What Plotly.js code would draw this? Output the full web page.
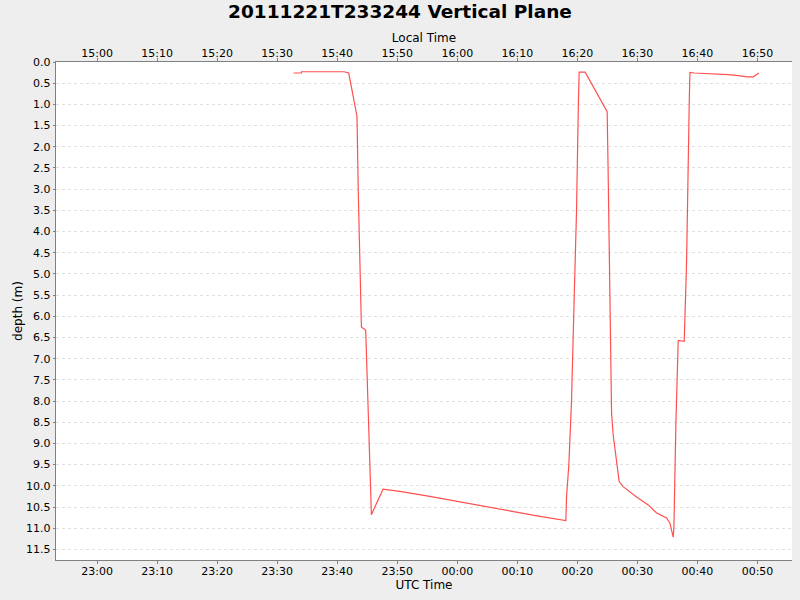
<!DOCTYPE html>
<html>
<head>
<meta charset="utf-8">
<script src="https://cdn.plot.ly/plotly-3.0.1.min.js"></script>
<style>
  body { margin: 0; background: #eeeeee; }
  #plot { width: 800px; height: 600px; }
</style>
</head>
<body>
<div id="plot"></div>
<script>
// UTC sample times and depths
const utcTimes = [
    '2011-12-21 23:32:44', '2011-12-21 23:34:02', '2011-12-21 23:34:04', '2011-12-21 23:41:08',
    '2011-12-21 23:41:55', '2011-12-21 23:42:15', '2011-12-21 23:42:38', '2011-12-21 23:43:05',
    '2011-12-21 23:43:18', '2011-12-21 23:43:30', '2011-12-21 23:43:52', '2011-12-21 23:44:02',
    '2011-12-21 23:44:45', '2011-12-21 23:45:42', '2011-12-21 23:47:38', '2011-12-21 23:50:25',
    '2011-12-21 23:55:25', '2011-12-22 00:00:22', '2011-12-22 00:05:25', '2011-12-22 00:10:25',
    '2011-12-22 00:13:45', '2011-12-22 00:18:05', '2011-12-22 00:18:12', '2011-12-22 00:18:35',
    '2011-12-22 00:19:02', '2011-12-22 00:19:28', '2011-12-22 00:19:52', '2011-12-22 00:20:10',
    '2011-12-22 00:20:18', '2011-12-22 00:21:18', '2011-12-22 00:21:32', '2011-12-22 00:24:58',
    '2011-12-22 00:25:07', '2011-12-22 00:25:25', '2011-12-22 00:25:42', '2011-12-22 00:25:58',
    '2011-12-22 00:26:58', '2011-12-22 00:27:38', '2011-12-22 00:29:45', '2011-12-22 00:31:48',
    '2011-12-22 00:33:12', '2011-12-22 00:34:52', '2011-12-22 00:35:25', '2011-12-22 00:35:58',
    '2011-12-22 00:36:05', '2011-12-22 00:36:25', '2011-12-22 00:36:38', '2011-12-22 00:36:48',
    '2011-12-22 00:37:48', '2011-12-22 00:38:12', '2011-12-22 00:38:38', '2011-12-22 00:38:45',
    '2011-12-22 00:39:28', '2011-12-22 00:43:28', '2011-12-22 00:45:08', '2011-12-22 00:46:48',
    '2011-12-22 00:48:18', '2011-12-22 00:49:18', '2011-12-22 00:50:15'
];
const depths = [
    0.26, 0.26, 0.23, 0.23,
    0.26, 0.50, 0.77, 1.05,
    1.28, 3.00, 5.60, 6.25,
    6.33, 10.68, 10.08, 10.13,
    10.25, 10.38, 10.50, 10.63,
    10.72, 10.82, 10.25, 9.50,
    7.97, 5.60, 3.49, 1.00,
    0.24, 0.24, 0.30, 1.17,
    2.50, 5.60, 8.29, 8.80,
    9.90, 10.02, 10.25, 10.45,
    10.64, 10.76, 10.88, 11.21,
    10.96, 8.50, 7.50, 6.57,
    6.59, 4.67, 0.97, 0.245,
    0.26, 0.28, 0.30, 0.32,
    0.35, 0.35, 0.26
];
const utcRange = ['2011-12-21 22:53:10', '2011-12-22 00:55:45'];
const localOffsetHours = -8;
const depthRange = [11.75, 0];

function shift(t, hours) {
    const d = new Date(t.replace(' ', 'T') + 'Z');
    d.setUTCHours(d.getUTCHours() + hours);
    return d.toISOString().slice(0, 19).replace('T', ' ');
}

const localTimes = utcTimes.map(t => shift(t, localOffsetHours));
const localRange = utcRange.map(t => shift(t, localOffsetHours));

const font = 'DejaVu Sans, sans-serif';

const data = [
    {
        x: utcTimes,
        y: depths,
        type: 'scatter',
        mode: 'lines',
        line: { color: '#ff5050', width: 1.2 },
        showlegend: false,
        hoverinfo: 'x+y'
    },
    {
        x: localTimes,
        y: depths,
        xaxis: 'x2',
        type: 'scatter',
        mode: 'lines',
        line: { color: 'rgba(0,0,0,0)', width: 0 },
        showlegend: false,
        hoverinfo: 'skip'
    }
];

const layout = {
    width: 800,
    height: 600,
    paper_bgcolor: '#eeeeee',
    plot_bgcolor: '#ffffff',
    margin: { l: 56, r: 8, t: 62, b: 40 },
    font: { family: font, size: 11, color: '#000' },
    title: {
        text: '<b>20111221T233244 Vertical Plane</b>',
        font: { family: font, size: 18.5, color: '#000' },
        x: 0.5, xanchor: 'center',
        y: 0.98, yanchor: 'middle'
    },
    xaxis: {
        type: 'date',
        range: utcRange,
        tickformat: '%H:%M',
        dtick: 600000,
        tick0: '2011-12-21 23:00:00',
        showgrid: false,
        zeroline: false,
        showline: true,
        linecolor: '#808080',
        linewidth: 1.3,
        ticks: 'outside',
        ticklen: 3,
        tickcolor: '#808080',
        ticklabelstandoff: -3,
        tickfont: { family: font, size: 11 },
        title: { text: 'UTC Time', font: { family: font, size: 12 }, standoff: 3 }
    },
    xaxis2: {
        type: 'date',
        range: localRange,
        overlaying: 'x',
        side: 'top',
        tickformat: '%H:%M',
        dtick: 600000,
        tick0: '2011-12-21 15:00:00',
        showgrid: false,
        zeroline: false,
        showline: true,
        linecolor: '#808080',
        linewidth: 1.3,
        ticks: 'outside',
        ticklen: 3,
        tickcolor: '#808080',
        ticklabelstandoff: -4,
        tickfont: { family: font, size: 11 },
        title: { text: 'Local Time', font: { family: font, size: 12 }, standoff: 2 }
    },
    yaxis: {
        range: depthRange,
        dtick: 0.5,
        tick0: 0,
        tickformat: '.1f',
        showgrid: true,
        gridcolor: '#e0e0e0',
        griddash: '3px,3px',
        gridwidth: 1,
        zeroline: false,
        showline: true,
        linecolor: '#808080',
        linewidth: 1.3,
        ticks: 'outside',
        ticklen: 2,
        tickcolor: '#808080',
        tickfont: { family: font, size: 11 },
        title: { text: 'depth (m)', font: { family: font, size: 12 }, standoff: 0 }
    }
};

Plotly.newPlot('plot', data, layout, { displayModeBar: false, staticPlot: true });
</script>
</body>
</html>
